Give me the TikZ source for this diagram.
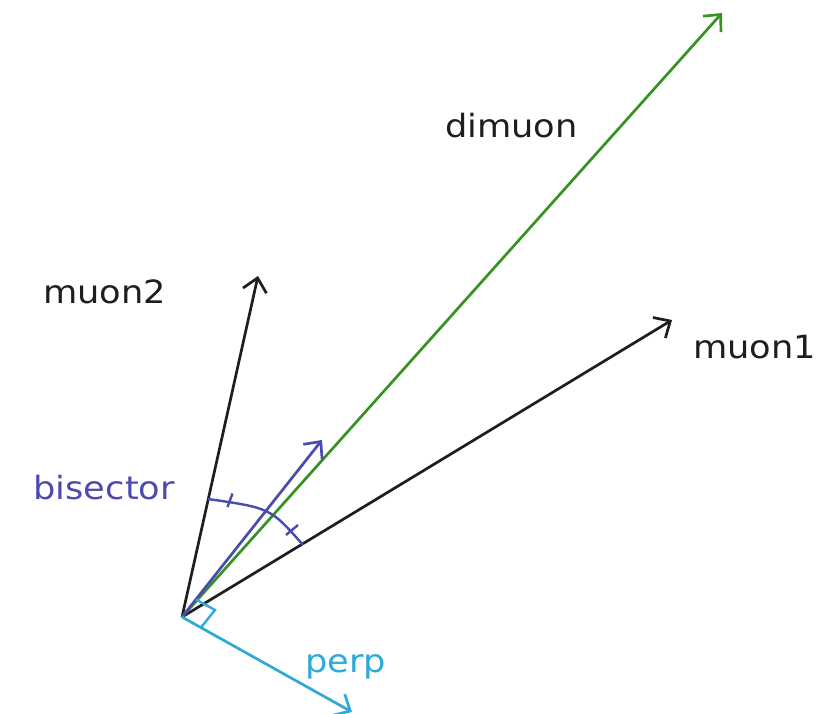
\documentclass[tikz,border=0pt]{standalone}
\usepackage{fontspec}
\setmainfont{DejaVu Sans}
\usetikzlibrary{arrows.meta}
\definecolor{dimgreen}{RGB}{55,145,35}
\definecolor{bisblue}{RGB}{75,75,175}
\definecolor{perpcyan}{RGB}{45,170,215}
\definecolor{txtgray}{RGB}{30,30,30}
\begin{document}
\begin{tikzpicture}[x=1pt,y=-1pt,
  vec/.style={line width=2.7pt,-{Straight Barb[length=13pt,width=24pt]}},
  lbl/.style={inner sep=0pt,font=\fontsize{32}{38}\selectfont}]
\useasboundingbox (0,0) rectangle (836,713);
\fill[white] (0,0) rectangle (836,713);
% points
\coordinate (O) at (182,617);
\coordinate (M1) at (672,320);
\coordinate (M2) at (258,276);
\coordinate (D) at (722,13);
\coordinate (B) at (322,440);
\coordinate (P) at (352,712);
% vectors
\draw[vec,txtgray] (O) -- (M2);
\draw[vec,txtgray] (O) -- (M1);
\draw[vec,dimgreen] (O) -- (D);
\draw[vec,bisblue] (O) -- (B);
\draw[vec,perpcyan] (O) -- (P);
% angle arc with ticks
\coordinate (A1) at (208,499);
\coordinate (A2) at (303,545);
\draw[bisblue,line width=2.4pt] (A1) .. controls (270.5,508) .. (A2);
\coordinate (T1a) at (227.5,507);
\coordinate (T1b) at (232.5,493.5);
\coordinate (T2a) at (286,535);
\coordinate (T2b) at (298,525);
\draw[bisblue,line width=2.4pt] (T1a) -- (T1b);
\draw[bisblue,line width=2.4pt] (T2a) -- (T2b);
% right angle marker
\coordinate (RA) at (196,599.5);
\coordinate (RC) at (215,610);
\coordinate (RB) at (201,627.5);
\draw[perpcyan,line width=2.4pt] (RA) -- (RC) -- (RB);
% labels
\node[lbl,anchor=base west,text=txtgray] (ldim) at (445,137) {\scalebox{1.1}[1]{dimuon}};
\node[lbl,anchor=base west,text=txtgray] (lm2) at (43,303) {\scalebox{1.1}[1]{muon2}};
\node[lbl,anchor=base west,text=txtgray] (lm1) at (693,358) {\scalebox{1.1}[1]{muon1}};
\node[lbl,anchor=base east,text=bisblue] (lbis) at (175,499) {\scalebox{1.1}[1]{bisector}};
\node[lbl,anchor=base west,text=perpcyan] (lperp) at (305,672) {\scalebox{1.1}[1]{perp}};
\end{tikzpicture}
\end{document}
